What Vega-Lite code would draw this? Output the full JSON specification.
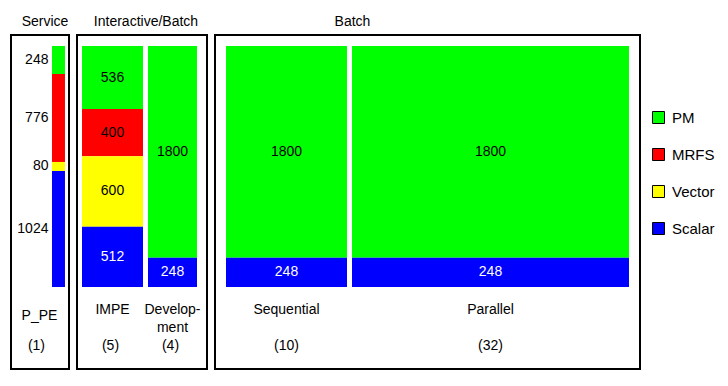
{
  "$schema": "https://vega.github.io/schema/vega-lite/v6.json",
  "background": "white",
  "padding": {"left": 10, "top": 14, "right": 5, "bottom": 5},
  "spacing": 6,
  "datasets": {
    "mem": [
      {"group": "Service", "label": "P_PE\n(1)", "count": 1, "segment": "PM", "rank": 4, "value": 248},
      {"group": "Service", "label": "P_PE\n(1)", "count": 1, "segment": "MRFS", "rank": 3, "value": 776},
      {"group": "Service", "label": "P_PE\n(1)", "count": 1, "segment": "Vector", "rank": 2, "value": 80},
      {"group": "Service", "label": "P_PE\n(1)", "count": 1, "segment": "Scalar", "rank": 1, "value": 1024},
      {"group": "Interactive/Batch", "label": "IMPE\n(5)", "count": 5, "segment": "PM", "rank": 4, "value": 536},
      {"group": "Interactive/Batch", "label": "IMPE\n(5)", "count": 5, "segment": "MRFS", "rank": 3, "value": 400},
      {"group": "Interactive/Batch", "label": "IMPE\n(5)", "count": 5, "segment": "Vector", "rank": 2, "value": 600},
      {"group": "Interactive/Batch", "label": "IMPE\n(5)", "count": 5, "segment": "Scalar", "rank": 1, "value": 512},
      {"group": "Interactive/Batch", "label": "Develop-\nment\n(4)", "count": 4, "segment": "PM", "rank": 4, "value": 1800},
      {"group": "Interactive/Batch", "label": "Develop-\nment\n(4)", "count": 4, "segment": "Scalar", "rank": 1, "value": 248},
      {"group": "Batch", "label": "Sequential\n(10)", "count": 10, "segment": "PM", "rank": 4, "value": 1800},
      {"group": "Batch", "label": "Sequential\n(10)", "count": 10, "segment": "Scalar", "rank": 1, "value": 248},
      {"group": "Batch", "label": "Parallel\n(32)", "count": 32, "segment": "PM", "rank": 4, "value": 1800},
      {"group": "Batch", "label": "Parallel\n(32)", "count": 32, "segment": "Scalar", "rank": 1, "value": 248}
    ]
  },
  "config": {
    "font": "Liberation Sans",
    "view": {"stroke": "black", "strokeWidth": 2},
    "title": {"fontSize": 14, "fontWeight": "normal", "color": "black", "offset": 6, "font": "Liberation Sans"},
    "text": {"fontSize": 14, "font": "Liberation Sans"},
    "axisX": {
      "title": null, "domain": false, "ticks": false, "grid": false,
      "labelAngle": 0, "labelFontSize": 14, "labelFont": "Liberation Sans", "labelColor": "black",
      "labelLineHeight": 18, "labelBaseline": "top", "labelPadding": 0, "labelOverlap": false,
      "labelFlush": false, "labelLimit": 0
    },
    "legend": {
      "orient": "none", "legendX": 640, "legendY": 75, "direction": "vertical",
      "symbolType": "square", "symbolSize": 144, "symbolStrokeColor": "black", "symbolStrokeWidth": 1,
      "labelFontSize": 15, "labelFont": "Liberation Sans", "labelColor": "black",
      "rowPadding": 20, "labelOffset": 6
    }
  },
  "resolve": {"scale": {"x": "independent", "y": "independent", "size": "independent", "color": "shared"}},
  "hconcat": [
    {
      "title": {"text": "Service", "dx": 5},
      "width": 58, "height": 334,
      "data": {"name": "mem"},
      "transform": [{"filter": {"field": "group", "equal": "Service"}}],
      "encoding": {
        "color": {"field": "segment", "type": "nominal", "sort": ["PM", "MRFS", "Vector", "Scalar"], "title": null,
                  "scale": {"domain": ["PM", "MRFS", "Vector", "Scalar"], "range": ["#00ff00", "#ff0000", "#ffff00", "#0000ff"]}},
        "order": {"field": "rank", "type": "quantitative", "sort": "ascending"}
      },
      "resolve": {"axis": {"x": "independent"}},
      "layer": [
        {"mark": "bar",
         "encoding": {
           "x": {"field": "label", "type": "nominal", "sort": null,
                 "scale": {"paddingInner": 0, "paddingOuter": 1, "align": 0.978},
                 "axis": {"orient": "bottom", "offset": -61, "labelOffset": -19, "labelExpr": "slice(split(datum.value, '\\n'), 0, -1)"}},
           "y": {"field": "value", "type": "quantitative", "stack": "normalize", "axis": null,
                 "scale": {"domain": [-0.3403, 1.0456], "nice": false, "zero": false}},
           "size": {"field": "count", "type": "quantitative", "legend": null, "scale": {"domain": [0, 1], "range": [0, 13]}}
         }},
        {"mark": {"type": "text", "align": "right", "baseline": "middle", "dx": -10},
         "encoding": {
           "x": {"field": "label", "type": "nominal", "sort": null,
                 "axis": {"orient": "bottom", "offset": -31, "labelOffset": -22, "labelExpr": "peek(split(datum.value, '\\n'))"}},
           "y": {"field": "value", "type": "quantitative", "stack": "normalize", "bandPosition": 0.5, "axis": null},
           "text": {"field": "value", "type": "quantitative"},
           "fill": {"value": "black"}
         }}
      ]
    },
    {
      "title": {"text": "Interactive/Batch", "dx": 4},
      "width": 130, "height": 334,
      "data": {"name": "mem"},
      "transform": [{"filter": {"field": "group", "equal": "Interactive/Batch"}}],
      "encoding": {
        "color": {"field": "segment", "type": "nominal", "sort": ["PM", "MRFS", "Vector", "Scalar"], "title": null},
        "order": {"field": "rank", "type": "quantitative", "sort": "ascending"}
      },
      "resolve": {"axis": {"x": "independent"}},
      "layer": [
        {"mark": "bar",
         "encoding": {
           "x": {"field": "label", "type": "nominal", "sort": null,
                 "scale": {"paddingInner": 0, "paddingOuter": 0.0833, "align": 0.55},
                 "axis": {"orient": "bottom", "offset": -67, "labelExpr": "slice(split(datum.value, '\\n'), 0, -1)"}},
           "y": {"field": "value", "type": "quantitative", "stack": "normalize", "axis": null,
                 "scale": {"domain": [-0.3403, 1.0456], "nice": false, "zero": false}},
           "size": {"field": "count", "type": "quantitative", "legend": null, "scale": {"domain": [4, 5], "range": [49, 61], "zero": false}}
         }},
        {"mark": {"type": "text", "align": "center", "baseline": "middle"},
         "encoding": {
           "x": {"field": "label", "type": "nominal", "sort": null,
                 "axis": {"orient": "bottom", "offset": -31, "labelOffset": -2, "labelExpr": "peek(split(datum.value, '\\n'))"}},
           "y": {"field": "value", "type": "quantitative", "stack": "normalize", "bandPosition": 0.5, "axis": null},
           "text": {"field": "value", "type": "quantitative"},
           "fill": {"condition": {"test": "datum.segment === 'Scalar'", "value": "white"}, "value": "black"}
         }}
      ]
    },
    {
      "title": {"text": "Batch", "dx": -75},
      "width": 425, "height": 334,
      "data": {"name": "mem"},
      "transform": [{"filter": {"field": "group", "equal": "Batch"}}],
      "encoding": {
        "color": {"field": "segment", "type": "nominal", "sort": ["PM", "MRFS", "Vector", "Scalar"], "title": null},
        "order": {"field": "rank", "type": "quantitative", "sort": "ascending"}
      },
      "resolve": {"axis": {"x": "independent"}},
      "layer": [
        {"mark": "bar",
         "encoding": {
           "x": {"field": "label", "type": "nominal", "sort": null,
                 "scale": {"paddingInner": 0.5, "paddingOuter": 0.2917, "align": 0.1723},
                 "axis": {"orient": "bottom", "offset": -67, "labelExpr": "slice(split(datum.value, '\\n'), 0, -1)"}},
           "y": {"field": "value", "type": "quantitative", "stack": "normalize", "axis": null,
                 "scale": {"domain": [-0.3403, 1.0456], "nice": false, "zero": false}},
           "size": {"field": "count", "type": "quantitative", "legend": null, "scale": {"domain": [10, 32], "range": [121, 277], "zero": false}}
         }},
        {"mark": {"type": "text", "align": "center", "baseline": "middle"},
         "encoding": {
           "x": {"field": "label", "type": "nominal", "sort": null,
                 "axis": {"orient": "bottom", "offset": -31, "labelExpr": "peek(split(datum.value, '\\n'))"}},
           "y": {"field": "value", "type": "quantitative", "stack": "normalize", "bandPosition": 0.5, "axis": null},
           "text": {"field": "value", "type": "quantitative"},
           "fill": {"condition": {"test": "datum.segment === 'Scalar'", "value": "white"}, "value": "black"}
         }}
      ]
    }
  ]
}
